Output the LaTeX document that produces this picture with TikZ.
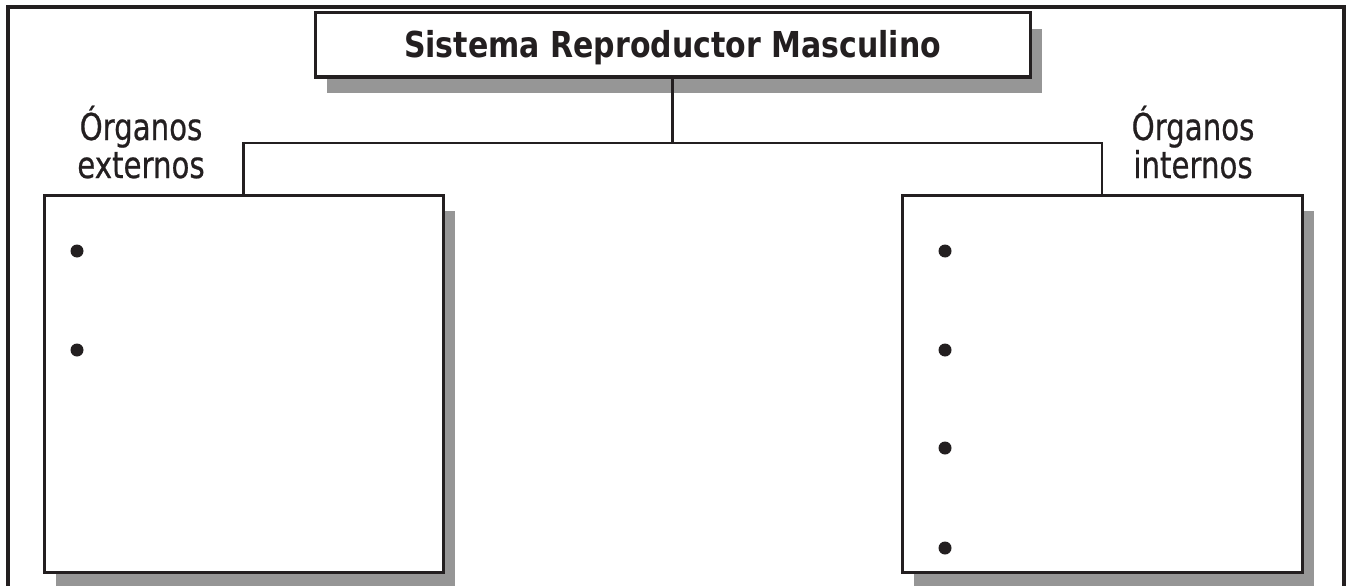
\documentclass[tikz,border=0pt]{standalone}
\usepackage{fontspec}
\usetikzlibrary{shadows}
\newfontfamily\titlefont[FakeStretch=0.84]{DejaVu Sans}
\newfontfamily\labelfont[FakeStretch=0.79,FakeBold=0.6]{DejaVu Sans}
\definecolor{ink}{HTML}{231F20}
\definecolor{shadowgray}{HTML}{969696}
\tikzset{
  organbox/.style={draw=ink, line width=3pt, fill=white, inner sep=0pt,
    drop shadow={shadow xshift=12pt, shadow yshift=-16pt, fill=shadowgray, opacity=1}},
  organlabel/.style={text=ink, align=center, anchor=base,
    font=\labelfont\fontsize{37}{38}\selectfont},
  link/.style={draw=ink, line width=2.5pt},
  dotmark/.style={fill=ink}
}
\begin{document}
\begin{tikzpicture}[x=1pt, y=-1pt]
  \useasboundingbox (0,0) rectangle (1349,586);
  %\draw[lightgray] (0,0) grid[step=50] (1349,586);
  \draw[ink, line width=4pt] (8,600) |- (1343.5,6.7) -- (1343.5,600);
  \node[organbox, minimum width=715pt, minimum height=64pt, text=ink, text height=25pt, text depth=0pt,
    font=\titlefont\bfseries\fontsize{35.7}{40}\selectfont] (title) at (672.5,45) {Sistema Reproductor Masculino};
  \node[organbox, minimum width=399pt, minimum height=377pt] (lbox) at (243.5,383.5) {};
  \node[organbox, minimum width=400pt, minimum height=377pt] (rbox) at (1102,383.5) {};
  \coordinate (fork) at (674,143);
  \draw[link] (title.south) -- (title.south |- fork);
  \draw[link] (lbox.north) -- (lbox.north |- fork) -- (rbox.north |- fork) -- (rbox.north);
  % base anchor sits on the last line
  \node[organlabel] (extlabel) at (141,178) {Órganos\\externos};
  \node[organlabel] (intlabel) at (1193,178) {Órganos\\internos};
  \foreach \y in {251,350}
    \fill[dotmark] (77,\y) circle (6.5pt);
  \foreach \y in {251,350,448,548}
    \fill[dotmark] (945,\y) circle (6.5pt);
\end{tikzpicture}
\end{document}
